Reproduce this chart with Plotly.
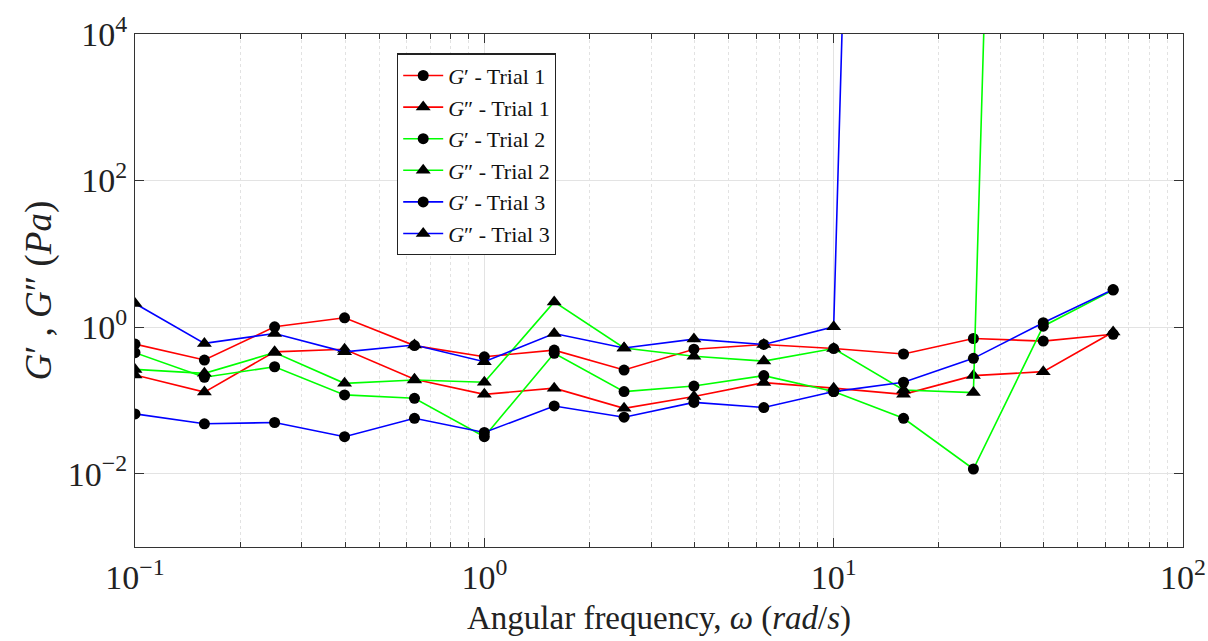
import plotly.graph_objects as go

omega = [0.1, 0.158, 0.251, 0.398, 0.631, 1.0, 1.585, 2.512, 3.981, 6.31, 10.0, 15.85, 25.12, 39.81, 63.1]

g1_storage = [0.587, 0.356, 1.01, 1.34, 0.56, 0.394, 0.486, 0.26, 0.50, 0.58, 0.51, 0.43, 0.70, 0.645, 0.80]
g1_loss = [0.222, 0.130, 0.46, 0.50, 0.194, 0.121, 0.147, 0.078, 0.113, 0.175, 0.147, 0.121, 0.218, 0.247, 0.86]
g2_storage = [0.448, 0.207, 0.288, 0.119, 0.107, 0.032, 0.44, 0.132, 0.157, 0.218, 0.132, 0.057, 0.0116, 1.03, 3.2]
g2_loss = [0.265, 0.234, 0.45, 0.171, 0.19, 0.177, 2.21, 0.52, 0.40, 0.344, 0.51, 0.139, 0.128, 1.6e32, 1.6e32]
g3_storage = [0.0655, 0.048, 0.05, 0.032, 0.057, 0.0365, 0.084, 0.059, 0.094, 0.080, 0.132, 0.177, 0.375, 1.15, 3.26]
g3_loss = [2.1, 0.6, 0.82, 0.46, 0.57, 0.337, 0.82, 0.52, 0.687, 0.58, 1.01, 4e33, 4e33, 4e33, 4e33]

x_tickvals = [0.1, 1, 10, 100]
x_ticktext = ["10<sup>−1</sup>", "10<sup>0</sup>", "10<sup>1</sup>", "10<sup>2</sup>"]
y_tickvals = [0.01, 1, 100, 10000]
y_ticktext = ["10<sup>−2</sup>", "10<sup>0</sup>", "10<sup>2</sup>", "10<sup>4</sup>"]

series = [
    ("<i>G</i>′ - Trial 1", g1_storage, "#ff0000", "circle"),
    ("<i>G</i>″ - Trial 1", g1_loss, "#ff0000", "triangle-up"),
    ("<i>G</i>′ - Trial 2", g2_storage, "#00ff00", "circle"),
    ("<i>G</i>″ - Trial 2", g2_loss, "#00ff00", "triangle-up"),
    ("<i>G</i>′ - Trial 3", g3_storage, "#0000ff", "circle"),
    ("<i>G</i>″ - Trial 3", g3_loss, "#0000ff", "triangle-up"),
]

FONT = "Liberation Serif, DejaVu Serif, serif"

fig = go.Figure()
for i, (name, vals, color, sym) in enumerate(series):
    fig.add_trace(go.Scatter(
        x=omega, y=vals, name=name, mode="lines+markers",
        line=dict(color=color, width=1.6),
        marker=dict(symbol=sym, color="black", size=11 if sym == "circle" else 13,
                    line=dict(width=0)),
    ))

axis_common = dict(
    type="log", showline=True, linecolor="#333333", linewidth=1.2,
    mirror="ticks", ticks="inside", tickcolor="#333333", ticklen=9,
    tickfont=dict(family=FONT, size=34, color="#222222"),
    gridcolor="#e3e3e3", gridwidth=1, zeroline=False, automargin=False,
)

fig.update_xaxes(
    range=[-1, 2], tickvals=x_tickvals, ticktext=x_ticktext, **axis_common,
    minor=dict(dtick="D1", ticks="inside", ticklen=5, tickcolor="#333333",
               showgrid=True, gridcolor="#e2e2e2", griddash="dot", gridwidth=1),
)
fig.update_yaxes(range=[-3, 4], tickvals=y_tickvals, ticktext=y_ticktext, **axis_common)

fig.update_layout(
    width=1208, height=641,
    margin=dict(l=135, r=25, t=34, b=94),
    paper_bgcolor="white", plot_bgcolor="white",
    font=dict(family=FONT, color="#222222"),
    showlegend=True,
    legend=dict(
        x=0.25, y=0.962, xanchor="left", yanchor="top",
        bgcolor="white", bordercolor="#222222", borderwidth=1.2,
        font=dict(family=FONT, size=22, color="#111111"),
        tracegroupgap=0, itemwidth=40,
    ),
    annotations=[
        dict(text="Angular frequency, <i>ω</i> (<i>rad</i>/<i>s</i>)",
             xref="paper", yref="paper", x=0.5, y=0, yshift=-92,
             xanchor="center", yanchor="bottom", showarrow=False,
             font=dict(family=FONT, size=33, color="#222222")),
        dict(text="<i>G</i>′ , <i>G</i>″ (<i>Pa</i>)",
             xref="paper", yref="paper", x=0, xshift=-97, y=0.5,
             xanchor="center", yanchor="middle", textangle=-90, showarrow=False,
             font=dict(family=FONT, size=37, color="#222222")),
    ],
)

fig.write_html("out.html")
